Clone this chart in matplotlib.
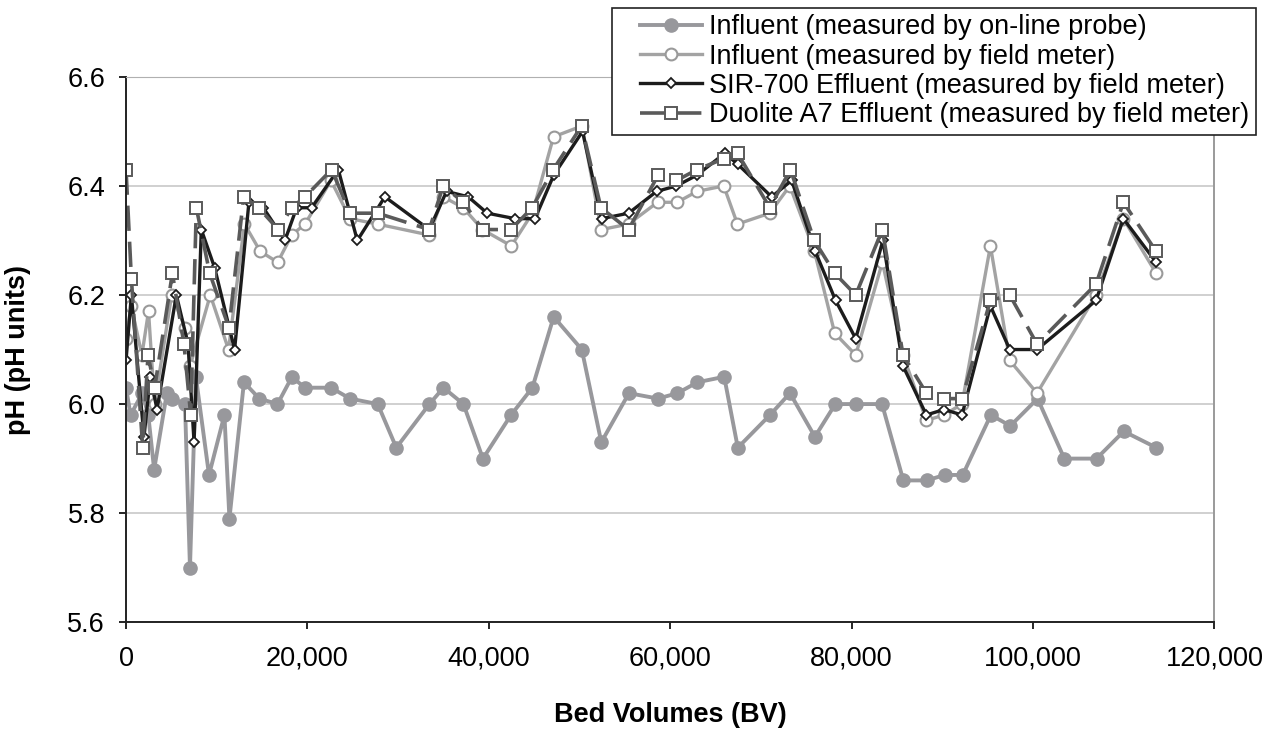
import matplotlib.pyplot as plt
from matplotlib.lines import Line2D
from matplotlib.legend_handler import HandlerLine2D
from matplotlib.ticker import FuncFormatter

# Influent pH read by the on-line probe
bv_probe = [0, 500, 1800, 2450, 3100, 4500, 5100, 6500, 7050, 7700,
            9150, 10850, 11400, 13000, 14700, 16700, 18300, 19700, 22600, 24700,
            27750, 29800, 33450, 35000, 37200, 39350, 42450, 44800, 47150, 50250,
            52400, 55450, 58650, 60800, 63000, 65950, 67450, 71000, 73200, 75950,
            78200, 80500, 83350, 85700, 88300, 90250, 92250, 95350, 97500, 100500,
            103450, 107000, 110000, 113600]
ph_probe = [6.03, 5.98, 6.02, 5.98, 5.88, 6.02, 6.01, 6.00, 5.70, 6.05,
            5.87, 5.98, 5.79, 6.04, 6.01, 6.00, 6.05, 6.03, 6.03, 6.01,
            6.00, 5.92, 6.00, 6.03, 6.00, 5.90, 5.98, 6.03, 6.16, 6.10,
            5.93, 6.02, 6.01, 6.02, 6.04, 6.05, 5.92, 5.98, 6.02, 5.94,
            6.00, 6.00, 6.00, 5.86, 5.86, 5.87, 5.87, 5.98, 5.96, 6.01,
            5.90, 5.90, 5.95, 5.92]

# Influent pH read by the field meter
bv_field = [0, 570, 1750, 2480, 3150, 5030, 6520, 7070, 9290, 11300,
            13060, 14800, 16720, 18270, 19730, 22600, 24700, 27740, 33430, 34970,
            37180, 39300, 42480, 44800, 47130, 50270, 52400, 55400, 58600, 60760,
            62960, 65900, 67410, 70970, 73180, 75900, 78130, 80450, 83390, 85660,
            88240, 90180, 92170, 95300, 97430, 100440, 106950, 109960, 113570]
ph_field = [6.12, 6.18, 6.09, 6.17, 6.00, 6.20, 6.14, 6.07, 6.20, 6.10,
            6.33, 6.28, 6.26, 6.31, 6.33, 6.41, 6.34, 6.33, 6.31, 6.38,
            6.36, 6.32, 6.29, 6.35, 6.49, 6.51, 6.32, 6.33, 6.37, 6.37,
            6.39, 6.40, 6.33, 6.35, 6.40, 6.28, 6.13, 6.09, 6.26, 6.09,
            5.97, 5.98, 6.00, 6.29, 6.08, 6.02, 6.20, 6.34, 6.24]

# SIR-700 effluent
bv_sir = [0, 590, 1980, 2680, 3420, 5550, 6840, 7500, 8300, 9770,
          11970, 13550, 15130, 17520, 18810, 20460, 23400, 25500, 28540, 33430,
          35340, 37730, 39830, 42880, 45090, 47160, 50330, 52430, 55410, 58500,
          60690, 62970, 66020, 67430, 71180, 73390, 75990, 78230, 80450, 83450,
          85660, 88240, 90180, 92170, 95300, 97430, 100440, 106950, 109960, 113570]
ph_sir = [6.08, 6.20, 5.94, 6.05, 5.99, 6.20, 6.11, 5.93, 6.32, 6.25,
          6.10, 6.37, 6.36, 6.30, 6.36, 6.36, 6.43, 6.30, 6.38, 6.32,
          6.39, 6.38, 6.35, 6.34, 6.34, 6.42, 6.50, 6.34, 6.35, 6.39,
          6.40, 6.42, 6.46, 6.44, 6.38, 6.41, 6.28, 6.19, 6.12, 6.30,
          6.07, 5.98, 5.99, 5.98, 6.18, 6.10, 6.10, 6.19, 6.34, 6.26]

# Duolite A7 effluent
bv_a7 = [0, 590, 1840, 2420, 3160, 5110, 6390, 7130, 7750, 9220,
         11350, 12970, 14620, 16790, 18270, 19730, 22670, 24700, 27740, 33430,
         34970, 37190, 39320, 42440, 44780, 47100, 50230, 52360, 55400, 58670,
         60690, 62970, 65910, 67420, 70980, 73250, 75880, 78130, 80450, 83390,
         85660, 88240, 90180, 92170, 95300, 97430, 100440, 106950, 109960, 113570]
ph_a7 = [6.43, 6.23, 5.92, 6.09, 6.03, 6.24, 6.11, 5.98, 6.36, 6.24,
         6.14, 6.38, 6.36, 6.32, 6.36, 6.38, 6.43, 6.35, 6.35, 6.32,
         6.40, 6.37, 6.32, 6.32, 6.36, 6.43, 6.51, 6.36, 6.32, 6.42,
         6.41, 6.43, 6.45, 6.46, 6.36, 6.43, 6.30, 6.24, 6.20, 6.32,
         6.09, 6.02, 6.01, 6.01, 6.19, 6.20, 6.11, 6.22, 6.37, 6.28]

labels = ['Influent (measured by on-line probe)',
          'Influent (measured by field meter)',
          'SIR-700 Effluent (measured by field meter)',
          'Duolite A7 Effluent (measured by field meter)']

plt.rcParams['font.family'] = ['Liberation Sans', 'DejaVu Sans']

fig = plt.figure(figsize=(12.73, 7.32), dpi=100)
ax = fig.add_axes([0.099, 0.150, 0.855, 0.745])

ax.plot(bv_probe, ph_probe, '-o', color='#98989c', lw=2.8, ms=9.5,
        mfc='#98989c', mec='#98989c', label=labels[0])
ax.plot(bv_field, ph_field, '-o', color='#a3a3a3', lw=2.4, ms=8.5,
        mfc='white', mec='#9a9a9a', mew=1.5, label=labels[1])
ax.plot(bv_sir, ph_sir, '-D', color='#1c1c1c', lw=2.4, ms=5.5,
        mfc='white', mec='#1c1c1c', mew=1.3, label=labels[2])
ax.plot(bv_a7, ph_a7, '-s', color='#5a5a5a', lw=2.6, ms=8.5,
        mfc='white', mec='#5a5a5a', mew=1.4, dashes=(7, 3), label=labels[3])

ax.set_xlim(0, 120000)
ax.set_ylim(5.6, 6.6)
ax.set_xticks(range(0, 120001, 20000))
ax.set_yticks([5.6, 5.8, 6.0, 6.2, 6.4, 6.6])
ax.xaxis.set_major_formatter(FuncFormatter(lambda v, p: f'{int(v):,}'))
ax.yaxis.set_major_formatter(FuncFormatter(lambda v, p: f'{v:.1f}'))
ax.tick_params(axis='both', labelsize=19.5, length=5, width=1.2, direction='out')
ax.tick_params(axis='x', pad=12)
ax.tick_params(axis='y', pad=10)

ax.grid(axis='y', color='#c8c8c8', lw=1.2)
ax.set_axisbelow(True)
ax.spines['left'].set_color('#222222')
ax.spines['bottom'].set_color('#222222')
ax.spines['left'].set_linewidth(1.4)
ax.spines['bottom'].set_linewidth(1.4)
ax.spines['top'].set_color('#b0b0b0')
ax.spines['right'].set_color('#9a9a9a')
ax.spines['right'].set_linewidth(1.4)

ax.set_xlabel('Bed Volumes (BV)', fontsize=19.5, fontweight='bold', labelpad=22)
ax.set_ylabel('pH (pH units)', fontsize=19.5, fontweight='bold', labelpad=26)

# legend sits above the plot area, handles indented from the frame
leg = fig.legend(loc='upper right', bbox_to_anchor=(0.991, 0.997),
                 fontsize=19.5, frameon=True, fancybox=False, framealpha=1,
                 edgecolor='#222222', handlelength=3.1, handletextpad=0.25,
                 borderpad=0.25, labelspacing=0.12, borderaxespad=0.2,
                 handler_map={Line2D: HandlerLine2D(xpad=0.8)})
leg.get_frame().set_linewidth(1.2)

fig.savefig('out.png', dpi=100)
